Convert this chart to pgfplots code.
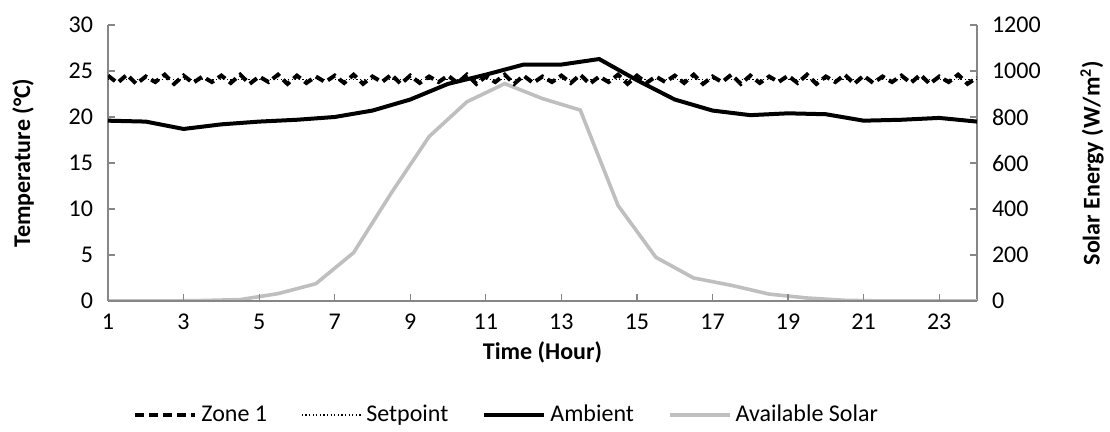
\documentclass[border=0pt]{standalone}
\usepackage{fontspec}
\setmainfont{Carlito}
\usepackage{pgfplots}
\pgfplotsset{compat=1.18}
\usetikzlibrary{calc}
\definecolor{axisgray}{RGB}{134,134,134}
\definecolor{solargray}{RGB}{191,191,191}

\begin{document}
\begin{tikzpicture}
\pgfplotsset{
  base/.style={
    scale only axis, width=434.5pt, height=138pt,
    xmin=1, xmax=24, ymin=0,
    tick align=inside, major tick length=3.5pt,
    tick style={axisgray, line width=0.6pt},
    axis line style={axisgray, line width=0.8pt},
    /pgf/number format/assume math mode=true,
    /pgf/number format/1000 sep={},
    tick label style={font=\fontsize{12}{14}\selectfont},
    label style={font=\fontsize{12}{14}\selectfont\bfseries},
  },
  zone/.style={black, line width=2pt, dash pattern=on 4.5pt off 2.5pt},
  setp/.style={black, line width=0.6pt, dash pattern=on 0.6pt off 1.2pt},
  amb/.style={black, line width=2pt},
  sol/.style={solargray, line width=1.8pt},
}

% right axis: solar energy
\begin{axis}[base, name=solar,
  axis x line=none, axis y line*=right,
  ymax=1200, ytick={0,200,...,1200},
  yticklabel style={xshift=4pt},
  ylabel={Solar Energy (W/m\textsuperscript{2})},
  ylabel style={at={(axis description cs:1.1323,0.5)}, anchor=center},
]
\addplot[sol] coordinates {
  (1,0)(1.5,0)(2.5,0)(3.5,2)(4.5,6)(5.5,32)(6.5,75)(7.5,210)(8.5,470)
  (9.5,715)(10.5,866)(11.5,945)(12.5,880)(13.5,830)(14.5,415)(15.5,190)
  (16.5,100)(17.5,68)(18.5,30)(19.5,13)(20.5,3)(21.5,0)(22.5,0)(23.5,0)(24,0)
};
\end{axis}

% left axis: temperature
\begin{axis}[base, name=temp,
  axis x line*=bottom, axis y line*=left,
  ymax=30, ytick={0,5,...,30},
  xtick={1,3,...,23},
  yticklabel style={xshift=-4pt},
  xticklabel style={yshift=-3pt},
  xlabel={Time (Hour)},
  xlabel style={at={(axis description cs:0.5,-0.188)}, anchor=center},
  ylabel={Temperature (°C)},
  ylabel style={at={(axis description cs:-0.0978,0.5)}, anchor=center},
  legend columns=4,
  legend cell align=left,
  legend style={at={(axis description cs:0.46,-0.413)}, anchor=center, draw=none,
    font=\fontsize{12}{14}\selectfont,
    /tikz/every even column/.append style={column sep=15pt},
    /tikz/every odd column/.append style={column sep=0pt}},
  legend image code/.code={\draw[#1] (0pt,0pt) -- (30pt,0pt);},
]
\addplot[zone] coordinates {
  (1,24.5)(1.25,23.7)(1.5,24.6)(1.75,23.6)(2,24.4)(2.25,23.8)(2.5,24.6)(2.75,23.6)(3,24.5)(3.25,23.7)(3.5,24.4)(3.75,23.8)
  (4,24.5)(4.25,23.7)(4.5,24.6)(4.75,23.6)(5,24.4)(5.25,23.8)(5.5,24.6)(5.75,23.6)(6,24.5)(6.25,23.7)(6.5,24.4)(6.75,23.8)
  (7,24.5)(7.25,23.7)(7.5,24.6)(7.75,23.6)(8,24.4)(8.25,23.8)(8.5,24.6)(8.75,23.6)(9,24.5)(9.25,23.7)(9.5,24.4)(9.75,23.8)
  (10,24.5)(10.25,23.7)(10.5,24.6)(10.75,23.6)(11,24.4)(11.25,23.8)(11.5,24.6)(11.75,23.6)(12,24.5)(12.25,23.7)(12.5,24.4)(12.75,23.8)
  (13,24.5)(13.25,23.7)(13.5,24.6)(13.75,23.6)(14,24.4)(14.25,23.8)(14.5,24.6)(14.75,23.6)(15,24.5)(15.25,23.7)(15.5,24.4)(15.75,23.8)
  (16,24.5)(16.25,23.7)(16.5,24.6)(16.75,23.6)(17,24.4)(17.25,23.8)(17.5,24.6)(17.75,23.6)(18,24.5)(18.25,23.7)(18.5,24.4)(18.75,23.8)
  (19,24.5)(19.25,23.7)(19.5,24.6)(19.75,23.6)(20,24.4)(20.25,23.8)(20.5,24.6)(20.75,23.6)(21,24.5)(21.25,23.7)(21.5,24.4)(21.75,23.8)
  (22,24.5)(22.25,23.7)(22.5,24.6)(22.75,23.6)(23,24.4)(23.25,23.8)(23.5,24.6)(23.75,23.6)(24,24.3)
};
\addlegendentry{Zone 1}
\addplot[setp] coordinates {(1,24.1)(24,24.1)};
\addlegendentry{Setpoint}
\addplot[amb] coordinates {
  (1,19.6)(2,19.5)(3,18.7)(4,19.2)(5,19.5)(6,19.7)(7,20.0)(8,20.7)
  (9,21.9)(10,23.6)(11,24.6)(12,25.7)(13,25.7)(14,26.3)(15,24.0)(16,21.9)
  (17,20.7)(18,20.2)(19,20.4)(20,20.3)(21,19.6)(22,19.7)(23,19.9)(24,19.5)
};
\addlegendentry{Ambient}
\addlegendimage{sol}
\addlegendentry{Available Solar}
\end{axis}

\pgfresetboundingbox
\path ($(temp.south west)+(-54pt,-65.5pt)$) rectangle ($(temp.north east)+(66.5pt,12.5pt)$);
\end{tikzpicture}
\end{document}
